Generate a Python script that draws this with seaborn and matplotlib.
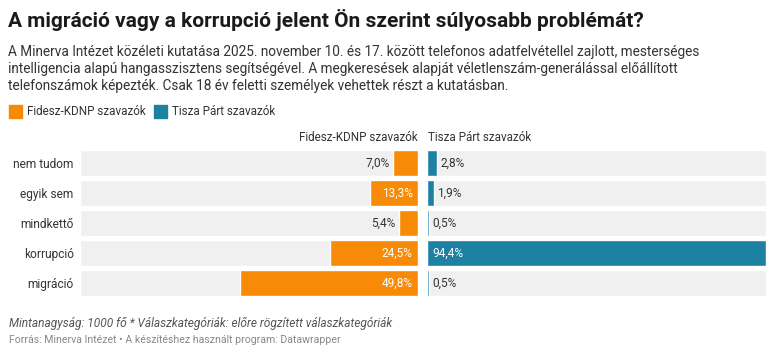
import matplotlib
matplotlib.use("Agg")
import matplotlib.pyplot as plt
import seaborn as sns
import pandas as pd
from matplotlib.patches import Rectangle

# adatok
categories = ["nem tudom", "egyik sem", "mindkettő", "korrupció", "migráció"]
fidesz = [7.0, 13.3, 5.4, 24.5, 49.8]
tisza = [2.8, 1.9, 0.5, 94.4, 0.5]
series_names = ["Fidesz-KDNP szavazók", "Tisza Párt szavazók"]

title = "A migráció vagy a korrupció jelent Ön szerint súlyosabb problémát?"
subtitle = ("A Minerva Intézet közéleti kutatása 2025. november 10. és 17. között telefonos adatfelvétellel zajlott, mesterséges\n"
            "intelligencia alapú hangasszisztens segítségével. A megkeresések alapját véletlenszám-generálással előállított\n"
            "telefonszámok képezték. Csak 18 év feletti személyek vehettek részt a kutatásban.")
note = "Mintanagyság: 1000 fő * Válaszkategóriák: előre rögzített válaszkategóriák"
source = "Forrás: Minerva Intézet • A készítéshez használt program: Datawrapper"

ORANGE = "#f78b07"
BLUE = "#1d81a2"
GREY = "#f0f0f0"
TXT = "#333333"
FS = 8.6
FS_HEAD = 8.4

sns.set_style("white")
plt.rcParams["font.family"] = ["Roboto", "DejaVu Sans"]

df = pd.DataFrame({"cat": categories, "fidesz": fidesz, "tisza": tisza})
vmax = max(max(fidesz), max(tisza))
df["full"] = vmax

W, H = 777, 357
fig = plt.figure(figsize=(W / 100, H / 100), dpi=100)

def box(x0, x1, y0, y1):
    return [x0 / W, 1 - y1 / H, (x1 - x0) / W, (y1 - y0) / H]

ax_l = fig.add_axes(box(80, 418, 148, 298))
ax_r = fig.add_axes(box(427, 766, 148, 298))

bw = 26 / 30
for ax, col, color in [(ax_l, "fidesz", ORANGE), (ax_r, "tisza", BLUE)]:
    sns.barplot(data=df, x="full", y="cat", orient="h", color=GREY, width=bw,
                ax=ax, saturation=1)
    sns.barplot(data=df, x=col, y="cat", orient="h", color=color, width=bw,
                ax=ax, saturation=1)
    ax.set_ylim(len(categories) - 0.5, -0.5)
    ax.set_xlabel("")
    ax.set_ylabel("")
    ax.set_xticks([])
    sns.despine(ax=ax, left=True, bottom=True)

ax_l.set_xlim(vmax, 0)
ax_r.set_xlim(0, vmax)
ax_r.set_yticks([])
ax_l.tick_params(axis="y", length=0, pad=4.5, labelsize=FS, labelcolor=TXT)

def fmt(v):
    return f"{v:.1f}%".replace(".", ",")

lab = dict(fontsize=FS, va="center")
for i, v in enumerate(fidesz):
    if v > 10:
        ax_l.annotate(fmt(v), (0, i), xytext=(-4, 0), textcoords="offset points",
                      ha="right", color="white", **lab)
    else:
        ax_l.annotate(fmt(v), (v, i), xytext=(-2.5, 0), textcoords="offset points",
                      ha="right", color=TXT, **lab)
for i, v in enumerate(tisza):
    if v > 10:
        ax_r.annotate(fmt(v), (0, i), xytext=(4, 0), textcoords="offset points",
                      ha="left", color="white", **lab)
    else:
        ax_r.annotate(fmt(v), (v, i), xytext=(2.5, 0), textcoords="offset points",
                      ha="left", color=TXT, **lab)

# oszlopfejlécek
fig.text(418 / W, 1 - 138 / H, series_names[0], ha="right", va="center",
         fontsize=FS_HEAD, color=TXT)
fig.text(428 / W, 1 - 138 / H, series_names[1], ha="left", va="center",
         fontsize=FS_HEAD, color=TXT)

# cím, alcím, jelmagyarázat
fig.text(8 / W, 1 - 20 / H, title, ha="left", va="center", fontsize=15,
         fontweight="bold", color="#1a1a1a")
fig.text(8 / W, 1 - 69 / H, subtitle, ha="left", va="center", fontsize=9.85,
         color=TXT, linespacing=1.25)

lx = [9, 154]
for x0, name, color in zip(lx, series_names, [ORANGE, BLUE]):
    fig.patches.append(Rectangle((x0 / W, 1 - 118 / H), 13 / W, 13 / H,
                                 transform=fig.transFigure, color=color))
    fig.text((x0 + 18) / W, 1 - 111.5 / H, name, ha="left", va="center",
             fontsize=FS_HEAD, color=TXT)

# lábjegyzet
fig.text(9 / W, 1 - 323 / H, note, ha="left", va="center", fontsize=8.6,
         style="italic", color="#555555")
fig.text(9 / W, 1 - 340 / H, source, ha="left", va="center", fontsize=7.6,
         color="#888888")

fig.savefig("out.png", dpi=100)
